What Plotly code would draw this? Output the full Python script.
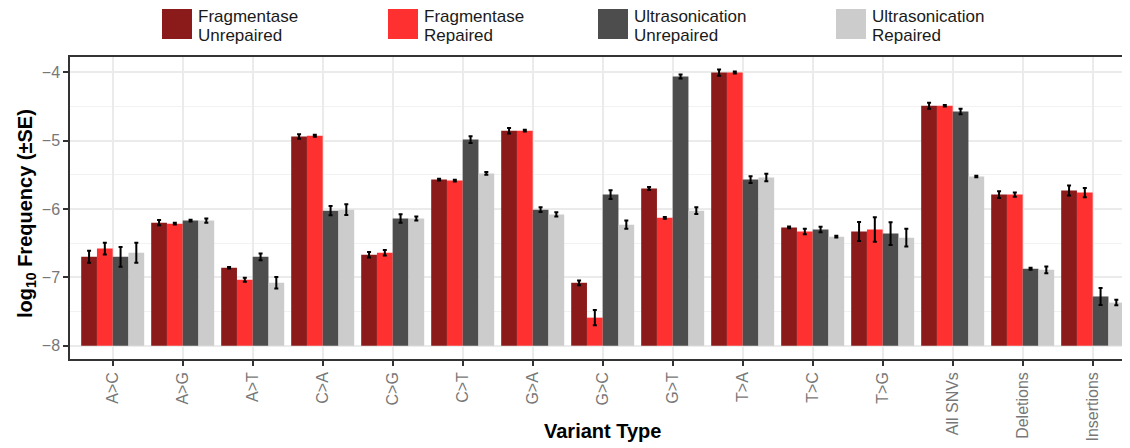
import plotly.graph_objects as go

categories = ["A>C", "A>G", "A>T", "C>A", "C>G", "C>T", "G>A", "G>C", "G>T",
              "T>A", "T>C", "T>G", "All SNVs", "Deletions", "Insertions"]

series_names = ["Fragmentase<br>Unrepaired", "Fragmentase<br>Repaired",
                "Ultrasonication<br>Unrepaired", "Ultrasonication<br>Repaired"]

frag_unrep = [-6.70, -6.20, -6.86, -4.94, -6.67, -5.57, -4.855, -7.08, -5.70,
              -4.005, -6.27, -6.33, -4.49, -5.79, -5.73]
frag_unrep_se = [0.088, 0.04, 0.012, 0.034, 0.04, 0.012, 0.04, 0.035, 0.02,
                 0.046, 0.012, 0.14, 0.044, 0.05, 0.073]

frag_rep = [-6.58, -6.215, -7.035, -4.93, -6.64, -5.585, -4.855, -7.59, -6.13,
            -4.005, -6.33, -6.30, -4.49, -5.79, -5.76]
frag_rep_se = [0.085, 0.012, 0.03, 0.015, 0.04, 0.012, 0.012, 0.11, 0.012,
               0.015, 0.04, 0.18, 0.012, 0.03, 0.068]

ultra_unrep = [-6.70, -6.17, -6.70, -6.025, -6.14, -4.985, -6.01, -5.79, -4.063,
               -5.57, -6.30, -6.36, -4.575, -6.875, -7.28]
ultra_unrep_se = [0.144, 0.012, 0.05, 0.068, 0.063, 0.05, 0.035, 0.063, 0.03,
                  0.05, 0.04, 0.166, 0.04, 0.015, 0.125]

ultra_rep = [-6.64, -6.17, -7.08, -6.01, -6.14, -5.48, -6.08, -6.23, -6.025,
             -5.54, -6.405, -6.42, -5.525, -6.89, -7.37]
ultra_rep_se = [0.146, 0.03, 0.083, 0.078, 0.03, 0.02, 0.03, 0.06, 0.05,
                0.054, 0.012, 0.13, 0.012, 0.05, 0.04]

y_ticks = [-8, -7, -6, -5, -4]
y_ticktext = ["\u22128", "\u22127", "\u22126", "\u22125", "\u22124"]
bar_floor = -8

colors = ["#8B1A1A", "#FF3030", "#4D4D4D", "#CCCCCC"]
values = [frag_unrep, frag_rep, ultra_unrep, ultra_rep]
errors = [frag_unrep_se, frag_rep_se, ultra_unrep_se, ultra_rep_se]

# The page body has an 8px margin, so the figure is laid out 8px smaller
# and every page-pixel position is shifted by that offset.
OFF = 8
PAGE_W, PAGE_H = 1130, 448
W, H = PAGE_W - OFF, PAGE_H - OFF
PLOT_L, PLOT_T, PLOT_B = 70, 57, 359          # page pixels
ML, MT, MR = PLOT_L - OFF, PLOT_T - OFF, 0
MB = PAGE_H - PLOT_B
PW, PH = W - ML - MR, H - MT - MB

fig = go.Figure()
for name, col, vals, se in zip(series_names, colors, values, errors):
    fig.add_trace(go.Bar(
        x=categories,
        y=[v - bar_floor for v in vals],
        base=bar_floor,
        name=name.replace("<br>", " "),
        marker=dict(color=col, line=dict(width=0)),
        error_y=dict(type="data", array=se, visible=True,
                     color="black", thickness=2, width=2),
        showlegend=False,
    ))

def px_x(px):
    return (px - OFF - ML) / PW

def px_y(py):
    return (H - MB - (py - OFF)) / PH

shapes = []
annotations = []
legend_swatch_x = [162, 388, 598, 836]
for name, col, sx in zip(series_names, colors, legend_swatch_x):
    shapes.append(dict(type="rect", xref="paper", yref="paper",
                       x0=px_x(sx), x1=px_x(sx + 30),
                       y0=px_y(39), y1=px_y(9),
                       fillcolor=col, line=dict(width=0)))
    l1, l2 = name.split("<br>")
    for txt, cy in ((l1, 16.5), (l2, 35.0)):
        annotations.append(dict(text=txt, xref="paper", yref="paper",
                                x=px_x(sx + 34), y=px_y(cy),
                                xanchor="left", yanchor="middle",
                                showarrow=False,
                                font=dict(family="Liberation Sans, Arial, sans-serif",
                                          size=17, color="#1a1a1a")))

annotations.append(dict(text="<b>Variant Type</b>", xref="paper", yref="paper",
                        x=px_x(602), y=px_y(431), xanchor="center", yanchor="middle",
                        showarrow=False,
                        font=dict(family="Liberation Sans, Arial, sans-serif",
                                  size=20, color="black")))
annotations.append(dict(text="<b>log<sub>10</sub> Frequency (±SE)</b>",
                        xref="paper", yref="paper",
                        x=px_x(26), y=px_y(214), xanchor="center", yanchor="middle",
                        textangle=-90, showarrow=False,
                        font=dict(family="Liberation Sans, Arial, sans-serif",
                                  size=20, color="black")))

fig.update_layout(
    width=W, height=H,
    margin=dict(l=ML, r=MR, t=MT, b=MB, pad=0, autoexpand=False),
    paper_bgcolor="white", plot_bgcolor="white",
    barmode="group", bargap=0.1, bargroupgap=0,
    shapes=shapes, annotations=annotations,
    showlegend=False,
    font=dict(family="Liberation Sans, Arial, sans-serif"),
)
fig.update_xaxes(
    type="category", range=[-0.61, 14.533],
    tickangle=-90, tickfont=dict(size=16, color="#777777"),
    showgrid=True, gridcolor="#EBEBEB", gridwidth=2,
    showline=True, mirror=True, linecolor="#333333", linewidth=1.5,
    ticks="outside", ticklen=5, tickwidth=1.5, tickcolor="#333333",
    zeroline=False, automargin=False,
)
fig.update_yaxes(
    range=[-8.195, -3.777],
    tickvals=y_ticks, ticktext=y_ticktext,
    tickfont=dict(size=16, color="#777777"),
    showgrid=True, gridcolor="#EBEBEB", gridwidth=2,
    minor=dict(tickvals=[-7.5, -6.5, -5.5, -4.5], showgrid=True,
               gridcolor="#F2F2F2", gridwidth=1, ticks=""),
    showline=True, mirror=True, linecolor="#333333", linewidth=1.5,
    ticks="outside", ticklen=5, tickwidth=1.5, tickcolor="#333333",
    zeroline=False, automargin=False,
)

fig.write_html("out.html")
